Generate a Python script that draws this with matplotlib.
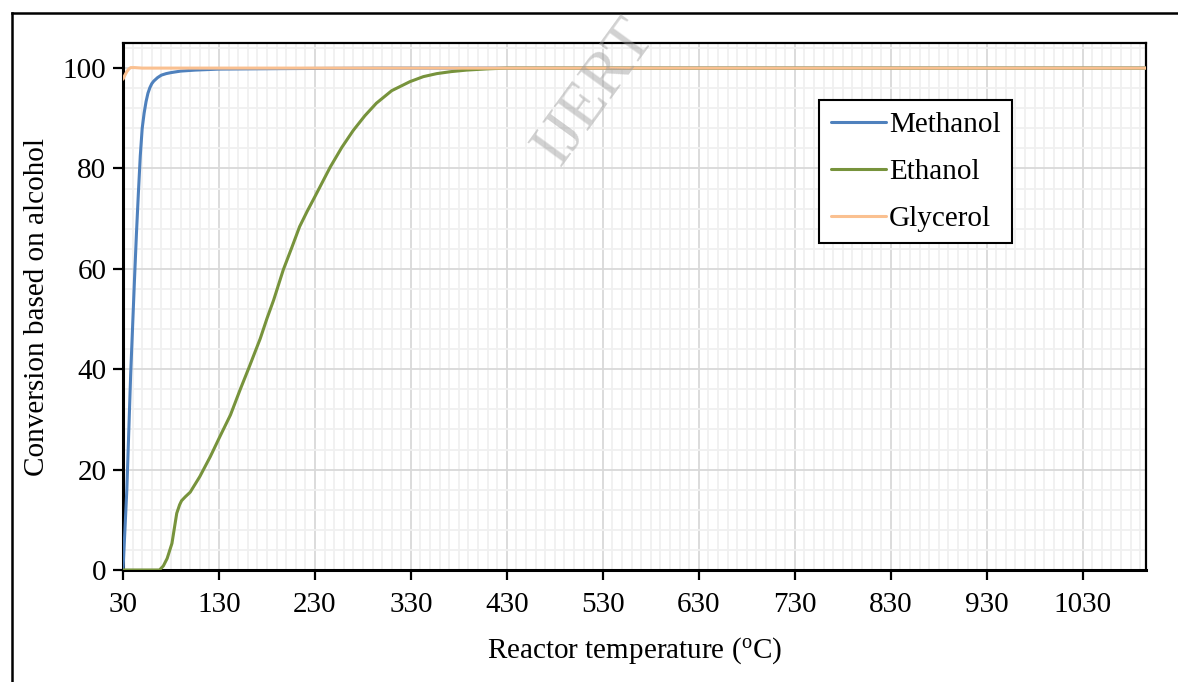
import matplotlib
matplotlib.use("Agg")
import matplotlib.pyplot as plt
from matplotlib.ticker import MultipleLocator, FixedLocator
from matplotlib.lines import Line2D
import numpy as np

plt.rcParams['font.family'] = ['Liberation Serif', 'DejaVu Serif']
plt.rcParams['mathtext.fontset'] = 'custom'
plt.rcParams['mathtext.rm'] = 'Liberation Serif'
plt.rcParams['mathtext.it'] = 'Liberation Serif:italic'

# ---- data ----
methanol_T = [30, 34, 38, 42, 44, 46, 48, 50, 52, 54, 56, 58, 60, 62, 66, 70, 75, 80, 90, 105, 130, 200, 300, 500, 800, 1096]
methanol_X = [0, 16, 39, 58, 67, 75, 82.5, 88, 91, 93.3, 95, 96.1, 96.9, 97.4, 98.1, 98.6, 98.9, 99.1, 99.4, 99.6, 99.8, 99.9, 100, 100, 100, 100]

ethanol_T = [30, 50, 68, 72, 76, 81, 86, 89, 91, 95, 100, 110, 121, 131, 142, 152, 161, 173, 180, 187, 197, 206, 214, 222, 230, 246, 258, 270, 282, 294, 310, 329, 343, 357, 372, 388, 410, 430, 600, 800, 1096]
ethanol_X = [0, 0, 0, 0.8, 2.3, 5.3, 11.3, 13.0, 13.8, 14.6, 15.5, 18.6, 22.6, 26.6, 30.9, 35.9, 40.2, 46.1, 50.1, 53.8, 59.8, 64.3, 68.4, 71.5, 74.4, 80.3, 84.2, 87.6, 90.5, 93.0, 95.5, 97.3, 98.3, 98.9, 99.3, 99.6, 99.85, 100, 100, 100, 100]

glycerol_T = [30, 32, 34, 36, 38, 42, 50, 200, 600, 1096]
glycerol_X = [97.8, 98.6, 99.3, 99.8, 100.1, 100.1, 100, 100, 100, 100]

series = [("Methanol", methanol_T, methanol_X, "#4F81BD"),
          ("Ethanol", ethanol_T, ethanol_X, "#77933C"),
          ("Glycerol", glycerol_T, glycerol_X, "#FAC090")]

xticks = [30, 130, 230, 330, 430, 530, 630, 730, 830, 930, 1030]
yticks = [0, 20, 40, 60, 80, 100]

FS = 21

fig = plt.figure(figsize=(11.78, 6.82), dpi=100)
ax = fig.add_axes([123/1178, 1 - 570/682, (1146 - 123)/1178, (570 - 43)/682])

for name, T, X, c in series:
    ax.plot(T, X, color=c, lw=2.2, label=name, solid_capstyle='round',
            solid_joinstyle='round', zorder=3)

ax.set_xlim(30, 1096)
ax.set_ylim(0, 105)
ax.xaxis.set_major_locator(FixedLocator(xticks))
ax.xaxis.set_minor_locator(FixedLocator(np.arange(40, 1096, 10)))
ax.yaxis.set_major_locator(FixedLocator(yticks))
ax.yaxis.set_minor_locator(MultipleLocator(4))

ax.grid(which='major', color='#D9D9D9', lw=1.3, zorder=0)
ax.grid(which='minor', color='#F0F0F0', lw=1.3, zorder=0)
ax.set_axisbelow(True)

for s in ax.spines.values():
    s.set_color('black')
    s.set_linewidth(1.6)
ax.spines['left'].set_linewidth(2.2)
ax.spines['bottom'].set_linewidth(2.2)

ax.tick_params(which='major', direction='out', length=7, width=1.6, labelsize=FS, pad=5, color='black')
ax.tick_params(which='minor', length=0)
ax.tick_params(axis='x', which='major', pad=9)

ax.set_xlabel(r"Reactor temperature ($^{\rm o}$C)", fontsize=FS, labelpad=12)
ax.set_ylabel("Conversion based on alcohol", fontsize=FS, labelpad=9)

leg = ax.legend(loc='upper left', bbox_to_anchor=((819 - 123)/1023, 1 - (100 - 43)/527),
                fontsize=FS, frameon=True, fancybox=False, edgecolor='black',
                handlelength=1.9, handletextpad=0.1, labelspacing=0.7,
                borderpad=0.4, borderaxespad=0)
leg.get_frame().set_linewidth(1.5)
leg.get_frame().set_facecolor('white')
leg.get_frame().set_alpha(1)

# watermark
fig.text(595/1178, 1 - 92/682, "IJERT", fontsize=46, rotation=54, color='#9a9a9a', alpha=0.45,
         ha='center', va='center', zorder=10)

# outer frame lines
fig.add_artist(Line2D([12/1178, 1], [1 - 13/682, 1 - 13/682], color='black', lw=1.8, transform=fig.transFigure))
fig.add_artist(Line2D([12/1178, 12/1178], [0, 1 - 13/682], color='black', lw=1.8, transform=fig.transFigure))

fig.savefig("out.png", dpi=100)
